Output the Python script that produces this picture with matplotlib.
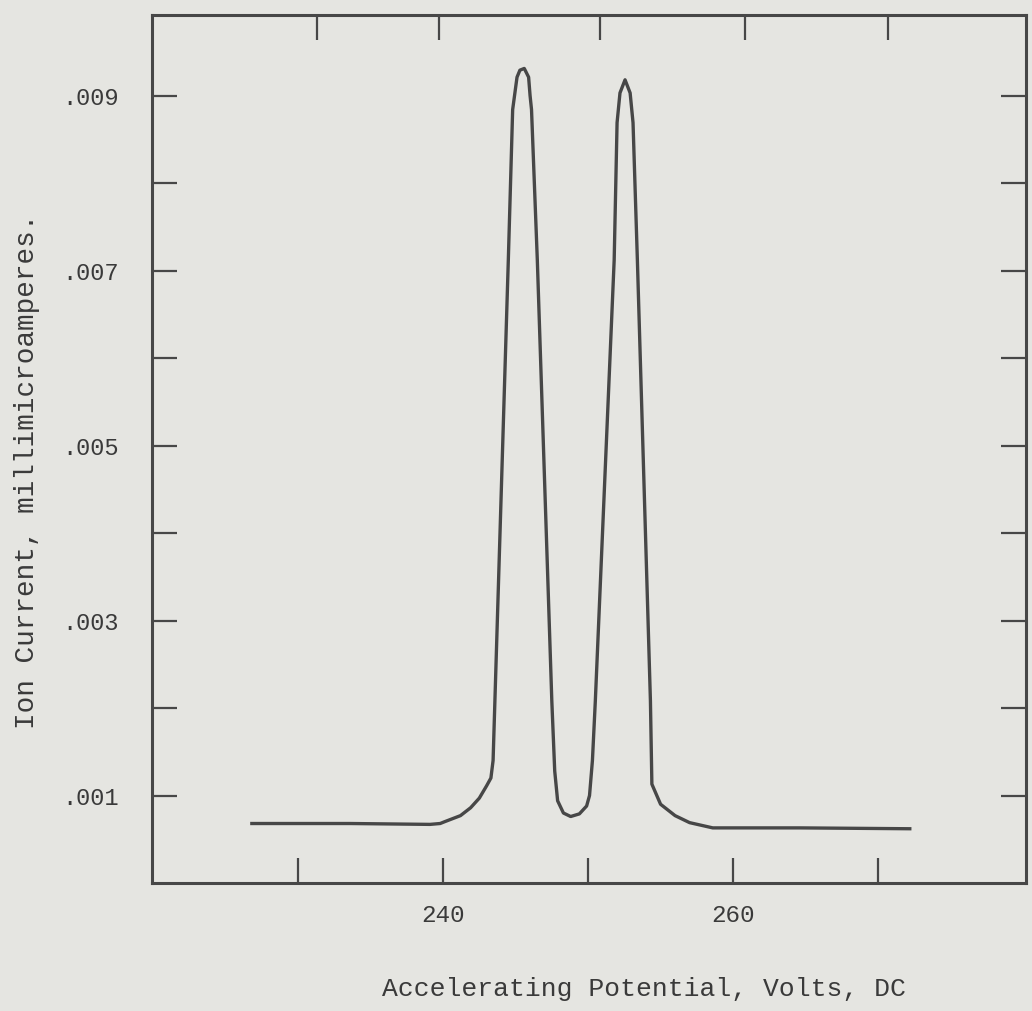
import matplotlib.pyplot as plt
import numpy as np

# readings
volts = [226.7, 233.6, 239.1, 239.8, 240.1, 241.2, 241.9, 242.5, 243.0, 243.3, 243.45,
         244.5, 244.8, 245.1, 245.3, 245.6, 245.9, 246.0, 246.1, 246.5,
         247.5, 247.7, 247.9, 248.3, 248.8, 249.4, 249.9, 250.1, 250.3, 250.5,
         251.8, 252.0, 252.2, 252.55, 252.9, 253.1, 253.4,
         254.3, 254.4, 255.0, 256.0, 257.0, 258.6, 264.6, 272.3]
current = [0.00068, 0.00068, 0.00067, 0.00068, 0.00070, 0.00077, 0.00086, 0.00097, 0.00111, 0.00120, 0.00140,
           0.00712, 0.00884, 0.00921, 0.00929, 0.00931, 0.00921, 0.00900, 0.00884, 0.00712,
           0.00208, 0.00128, 0.00094, 0.00080, 0.00076, 0.00079, 0.00088, 0.00100, 0.00140, 0.00208,
           0.00712, 0.00869, 0.00903, 0.00918, 0.00903, 0.00869, 0.00712,
           0.00208, 0.00113, 0.00090, 0.00077, 0.00069, 0.00063, 0.00063, 0.00062]

xticks_bottom = [230, 240, 250, 260, 270]
xlabels_bottom = ['', '240', '', '260', '']
xticks_top = [231.3, 239.7, 250.8, 260.8, 270.7]
yticks_major = [0.001, 0.003, 0.005, 0.007, 0.009]
ylabels_major = ['.001', '.003', '.005', '.007', '.009']
yticks_minor = [0.002, 0.004, 0.006, 0.008]

paper = '#e5e5e1'
ink = '#474747'

fig = plt.figure(figsize=(10.32, 10.11), dpi=100, facecolor=paper)
ax = fig.add_axes([0.1473, 0.1266, 0.8469, 0.8585], facecolor=paper)

ax.plot(volts, current, color=ink, lw=2.4, solid_joinstyle='round', solid_capstyle='butt')

ax.set_xlim(219.93, 280.2)
ax.set_ylim(0, 0.00992)

for s in ax.spines.values():
    s.set_color(ink)
    s.set_linewidth(2.2)

ax.set_xticks(xticks_bottom)
ax.set_xticklabels(xlabels_bottom)
ax.set_yticks(yticks_major)
ax.set_yticklabels(ylabels_major)
ax.set_yticks(yticks_minor, minor=True)
ax.tick_params(axis='both', which='both', direction='in', length=18, width=1.6,
               color=ink, labelcolor='#3a3a3a')
ax.tick_params(axis='y', which='both', right=True, labelright=False)
ax.tick_params(axis='y', which='major', pad=24, labelsize=17)
ax.tick_params(axis='x', which='major', pad=15, labelsize=17.5)
for lab in ax.get_xticklabels() + ax.get_yticklabels():
    lab.set_family('Liberation Mono')

top = ax.secondary_xaxis('top')
top.set_xticks(xticks_top)
top.set_xticklabels([])
top.tick_params(direction='in', length=18, width=1.6, color=ink)
top.spines['top'].set_visible(False)

ax.set_xlabel('Accelerating Potential, Volts, DC', family='Liberation Mono',
              fontsize=19, color='#3a3a3a')
ax.xaxis.set_label_coords(0.563, -0.108)
ax.set_ylabel('Ion Current, millimicroamperes.', family='Liberation Mono',
              fontsize=20, color='#3a3a3a')
ax.yaxis.set_label_coords(-0.128, 0.474)

fig.savefig('out.png', dpi=100, facecolor=paper)
